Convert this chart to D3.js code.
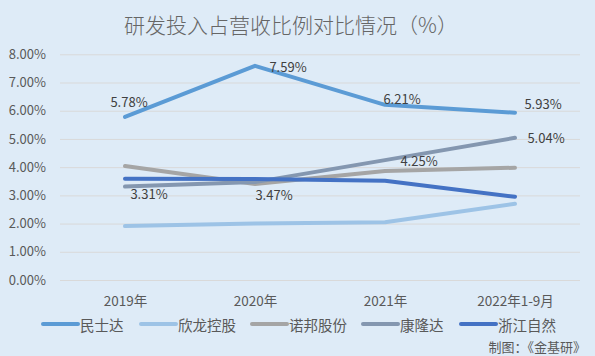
<!DOCTYPE html>
<html><head><meta charset="utf-8">
<script src="https://cdn.jsdelivr.net/npm/d3@7/dist/d3.min.js"></script>
<style>
html,body{margin:0;padding:0;background:#DEEBF7;}
svg{display:block;}
text{font-family:"Noto Sans CJK SC","Noto Sans",sans-serif;}
</style></head>
<body>
<svg id="chart" width="595" height="356"></svg>
<script>
const title = "研发投入占营收比例对比情况（%）";
const source = "制图：《金基研》";
const categories = ["2019年", "2020年", "2021年", "2022年1-9月"];
const seriesNames = ["民士达", "欣龙控股", "诺邦股份", "康隆达", "浙江自然"];
const minshida = [5.78, 7.59, 6.21, 5.93];
const xinlong = [1.91, 2.00, 2.05, 2.70];
const nuobang = [4.04, 3.40, 3.86, 3.98];
const kanglongda = [3.31, 3.47, 4.25, 5.04];
const zhejiang = [3.59, 3.58, 3.52, 2.95];
const yTicks = [0, 1, 2, 3, 4, 5, 6, 7, 8];
const colors = ["#5B9BD5", "#9DC3E6", "#A5A5A5", "#8497B0", "#4472C4"];
// which series carry data labels, and label offsets (layout only)
const labelledSeries = [0, 3];
const labelOffsets = [
  [[4,-15],[33,1],[17,-6],[28,-9]],
  null, null,
  [[24,7],[19,12],[34,0],[31,0]],
  null
];

(function(){
const series = [minshida, xinlong, nuobang, kanglongda, zhejiang];
const svg = d3.select("#chart");
const W = 595, H = 356;
svg.append("rect").attr("width", W).attr("height", H).attr("fill", "#DEEBF7");

const mL = 60, mR = 580, mT = 54.3, mB = 280;
const x = d3.scalePoint().domain(categories).range([mL, mR]).padding(0.5);
const y = d3.scaleLinear().domain([0, 8]).range([mB, mT]);

svg.append("text").attr("x", 291).attr("y", 24).attr("text-anchor", "middle")
  .attr("dominant-baseline", "central").attr("font-size", 21).attr("font-weight", 300)
  .attr("fill", "#666666").text(title);

const yAxis = d3.axisLeft(y).tickValues(yTicks).tickSize(-(mR - mL))
  .tickFormat(d => d.toFixed(2) + "%");
const yg = svg.append("g").attr("transform", `translate(${mL},0)`).call(yAxis);
yg.select(".domain").remove();
yg.selectAll(".tick line").attr("stroke", "#D9D9D9").attr("stroke-width", 1);
yg.selectAll(".tick text").attr("x", -14).attr("font-size", 13).attr("fill", "#595959");

const xAxis = d3.axisBottom(x).tickSize(0);
const xg = svg.append("g").attr("transform", `translate(0,${mB})`).call(xAxis);
xg.select(".domain").remove();
xg.selectAll(".tick text").attr("dy", 0).attr("y", 20).attr("dominant-baseline", "central")
  .attr("font-size", 13.5).attr("fill", "#595959");

const line = d3.line().x((d, i) => x(categories[i])).y(d => y(d));
series.forEach((s, k) => {
  svg.append("path").datum(s).attr("d", line).attr("fill", "none")
    .attr("stroke", colors[k]).attr("stroke-width", 4)
    .attr("stroke-linecap", "round").attr("stroke-linejoin", "round");
});

labelledSeries.forEach(k => {
  series[k].forEach((v, i) => {
    const off = labelOffsets[k][i];
    svg.append("text").attr("x", x(categories[i]) + off[0]).attr("y", y(v) + off[1])
      .attr("text-anchor", "middle").attr("dominant-baseline", "central")
      .attr("font-size", 13).attr("fill", "#404040").text(v.toFixed(2) + "%");
  });
});

const legendX = [43, 141, 252, 363, 461];
seriesNames.forEach((n, k) => {
  const g = svg.append("g").attr("transform", `translate(${legendX[k]},324)`);
  g.append("line").attr("x1", 0).attr("x2", 35).attr("y1", 0).attr("y2", 0)
    .attr("stroke", colors[k]).attr("stroke-width", 4).attr("stroke-linecap", "round");
  g.append("text").attr("x", 37).attr("y", 0).attr("dominant-baseline", "central")
    .attr("font-size", 14.5).attr("fill", "#595959").text(n);
});

svg.append("text").attr("x", 586).attr("y", 346).attr("text-anchor", "end")
  .attr("dominant-baseline", "central").attr("font-size", 13).attr("fill", "#595959").text(source);
})();
</script>
</body></html>
